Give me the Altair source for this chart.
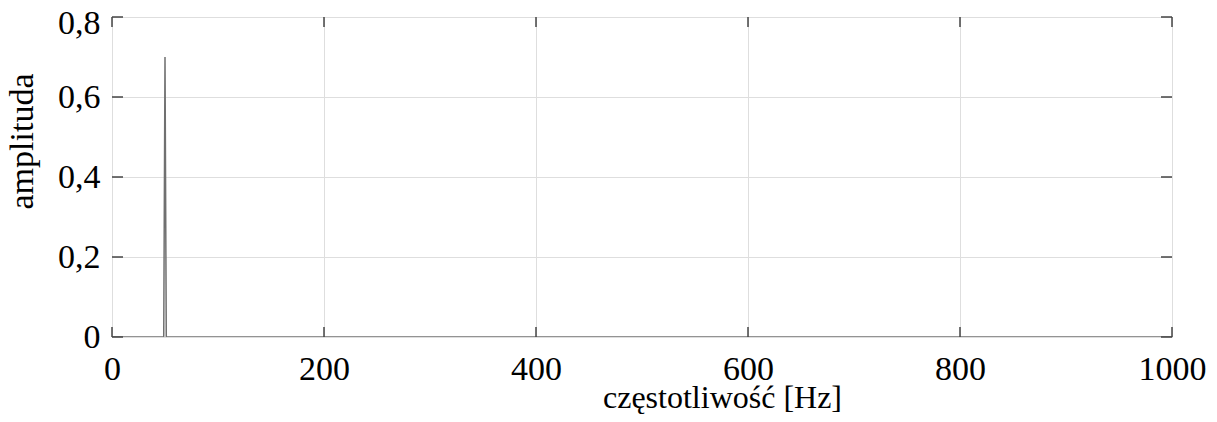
import altair as alt
import pandas as pd

# spectrum data (frequency in Hz, amplitude)
freq = [0, 48.8, 50, 51.2, 1000]
amp = [0, 0, 0.70, 0, 0]

x_ticks = [0, 200, 400, 600, 800, 1000]
y_ticks = [0, 0.2, 0.4, 0.6, 0.8]

df = pd.DataFrame({"f": freq, "a": amp})
xt = pd.DataFrame({"f": x_ticks})
yt = pd.DataFrame({"a": y_ticks})

W, H = 1060, 320
FONT = "Liberation Serif"
FS = 34
xs = alt.Scale(domain=[0, 1000], nice=False, zero=False)
ys = alt.Scale(domain=[0, 0.8], nice=False)

y_label_expr = "datum.value == 0 ? '0' : replace(format(datum.value, '.1f'), '.', ',')"
x_label_expr = "format(datum.value, 'd')"

line = alt.Chart(df).mark_line(color="#707070", strokeWidth=1.5, clip=True).encode(
    x=alt.X("f:Q", scale=xs, axis=alt.Axis(
        values=x_ticks, title="częstotliwość [Hz]", grid=True, gridColor="#dedede",
        gridWidth=1, ticks=False, domain=False, labelFont=FONT, labelFontSize=FS,
        labelColor="#000", labelPadding=15, labelExpr=x_label_expr,
        titleFont=FONT, titleFontSize=32,
        titleFontWeight="normal", titleColor="#000", titlePadding=-4,
        titleX=610, titleAlign="center", labelFlush=False)),
    y=alt.Y("a:Q", scale=ys, axis=alt.Axis(
        values=y_ticks, title="amplituda", grid=True, gridColor="#dedede",
        gridWidth=1, ticks=False, domain=False, labelFont=FONT, labelFontSize=FS,
        labelColor="#000", labelPadding=12, labelExpr=y_label_expr,
        labelOffset={"condition": {"test": "datum.value == 0.8", "value": 6}, "value": 0},
        titleFont=FONT, titleFontSize=FS, titleFontWeight="normal",
        titleColor="#000", titlePadding=18, titleY=124, labelFlush=False)),
)

tick_color = "#444"
bx = alt.Chart(xt).mark_rule(color=tick_color, strokeWidth=1.5).encode(
    x=alt.X("f:Q", scale=xs), y=alt.value(H), y2=alt.value(H - 10))
tx = alt.Chart(xt).mark_rule(color=tick_color, strokeWidth=1.5).encode(
    x=alt.X("f:Q", scale=xs), y=alt.value(0), y2=alt.value(10))
ly = alt.Chart(yt).mark_rule(color=tick_color, strokeWidth=1.5).encode(
    y=alt.Y("a:Q", scale=ys), x=alt.value(0), x2=alt.value(11))
ry = alt.Chart(yt).mark_rule(color=tick_color, strokeWidth=1.5).encode(
    y=alt.Y("a:Q", scale=ys), x=alt.value(W), x2=alt.value(W - 11))

chart = alt.layer(line, bx, tx, ly, ry).properties(
    width=W, height=H,
    autosize=alt.AutoSizeParams(type="none"),
    padding={"left": 104, "top": 9, "right": 37, "bottom": 77},
).configure_view(stroke="#444", strokeWidth=1.5).configure(background="white")

chart.save("out.html", embed_options={"renderer": "svg", "actions": False})
